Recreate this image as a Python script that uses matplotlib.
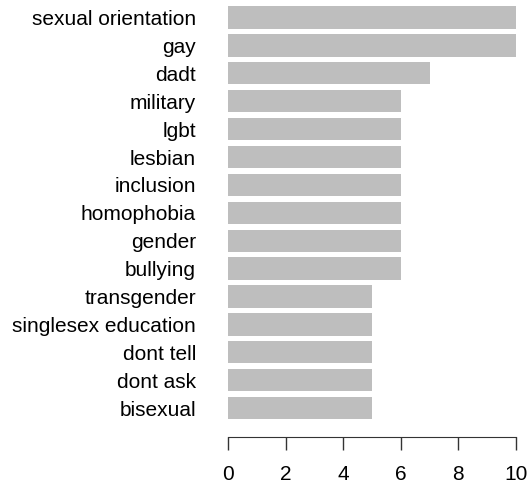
import matplotlib
matplotlib.use('Agg')
import matplotlib.pyplot as plt

# terms, top to bottom as in the chart
terms = ['sexual orientation', 'gay', 'dadt', 'military', 'lgbt', 'lesbian',
         'inclusion', 'homophobia', 'gender', 'bullying', 'transgender',
         'singlesex education', 'dont tell', 'dont ask', 'bisexual']
counts = [10, 10, 7, 6, 6, 6, 6, 6, 6, 6, 5, 5, 5, 5, 5]
xticks = [0, 2, 4, 6, 8, 10]

plt.rcParams['font.family'] = ['Liberation Sans', 'DejaVu Sans']

fig = plt.figure(figsize=(5.28, 4.91), dpi=100)
# axes area in pixels: x 228..516, y 3.6..422
W, H = 528, 491
ax = fig.add_axes([228 / W, (H - 422) / H, (516 - 228) / W, (422 - 3.6) / H])

# spines first: set_position resets the ticks
for s in ['top', 'right', 'left']:
    ax.spines[s].set_visible(False)
ax.spines['bottom'].set_position(('outward', 10.8))
ax.spines['bottom'].set_bounds(0, 10)
ax.spines['bottom'].set_color('#333333')

pos = list(range(len(terms)))[::-1]
ax.barh(pos, counts, height=0.8, color='#bebebe', edgecolor='none')

ax.set_xlim(0, 10)
ax.set_ylim(-0.5, len(terms) - 0.5)
ax.set_yticks(pos)
ax.set_yticklabels(terms)
ax.tick_params(axis='y', length=0, pad=23, labelsize=15)

ax.set_xticks(xticks)
ax.set_xticklabels([str(v) for v in xticks])
ax.tick_params(axis='x', length=9.5, width=1, pad=11, color='#333333', labelsize=15)

fig.savefig('out.png', dpi=100)
